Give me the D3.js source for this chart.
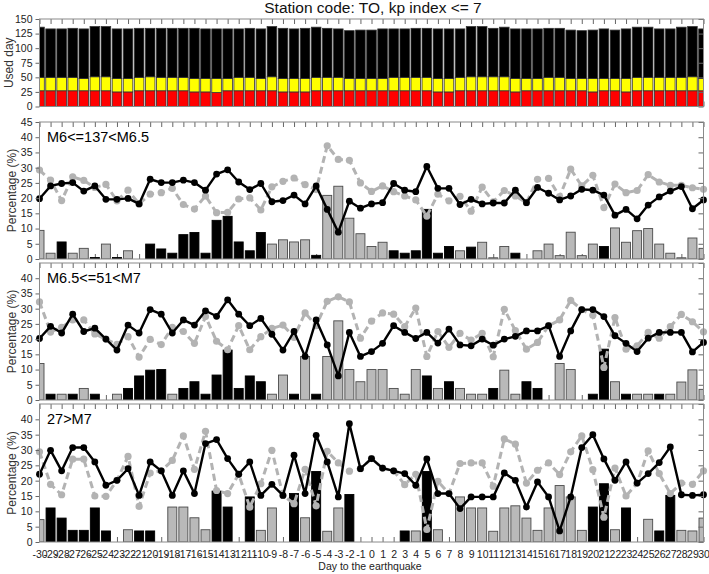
<!DOCTYPE html>
<html><head><meta charset="utf-8">
<script src="https://cdn.jsdelivr.net/npm/d3@7/dist/d3.min.js"></script>
<style>
body{margin:0;background:#fff}
svg{display:block}
text{font-family:"Liberation Sans",Arial,Helvetica,sans-serif}
</style>
</head><body>
<svg id="c" width="709" height="574"></svg>
<script>
// ---------- DATA ----------
const days = [-30,-29,-28,-27,-26,-25,-24,-23,-22,-21,-20,-19,-18,-17,-16,-15,-14,-13,-12,-11,-10,-9,-8,-7,-6,-5,-4,-3,-2,-1,
  0,1,2,3,4,5,6,7,8,9,10,11,12,13,14,15,16,17,18,19,20,21,22,23,24,25,26,27,28,29,30];

// top panel: used days (stack segments)
const usedRed = [27,27,27,27,27,27,27,25,25,27,27,27,27,27,25,25,24,27,27,27,27,27,25,25,25,27,27,27,27,27,
  27,27,27,27,27,27,25,25,27,27,27,27,27,25,27,27,27,27,27,27,25,27,27,25,27,27,27,27,27,27,27];
const usedYellow = [23,23,23,23,21,24,24,23,23,23,24,23,23,23,23,23,24,21,23,23,21,24,23,23,23,23,23,23,21,21,
  21,21,23,23,23,23,23,23,23,24,24,24,24,23,21,21,23,23,21,21,23,21,21,23,23,23,23,23,23,24,21];
const usedBlack = [86,83,83,84,85,86,86,85,85,84,83,84,84,84,86,85,85,85,83,84,85,86,86,85,86,86,84,83,82,83,
  83,85,83,83,84,84,85,85,83,86,86,83,85,85,85,85,84,84,83,82,83,85,83,85,86,86,83,83,86,86,85];
const usedTicks = [0,25,50,75,100,125,150];

// panel 1: M6<=137<M6.5
const m6Black = [19.8,24,24.8,25.1,22.3,24,19.6,19.6,19.9,18.1,26.2,25.1,25.1,25.9,25.1,22.6,27.9,29.3,25.3,22.8,24.8,18.8,19.2,21,18.1,24,16.3,8.8,19,16.7,
  18.1,18.5,24.8,22.6,22.1,30.4,23.2,23.2,17.9,19.6,18.1,18.4,18.4,22.6,18.5,23.5,21.6,19.4,20.7,22.9,22.6,21,14.4,16.3,13.2,17.7,20.4,22.3,23.8,16.5,19.4];
const m6Gray = [29.2,25.9,19.2,27,25.8,23.5,24.5,19.1,22.6,18.1,21.3,21.8,23.2,17.9,16.4,20.7,15.2,15.3,19.7,20.1,16.1,23.7,25.5,26.6,24.4,22.8,37.2,32.7,32.4,25,
  22.2,24,22.1,20.7,19.4,14.1,21.3,19.1,20.6,15.7,23.6,18.8,22.5,20.7,18.5,26.2,26.5,20.5,29.5,24,27.5,16.9,24.6,21.8,22.5,27.7,25.3,24.2,24.2,23.4,22.9];

// panel 2: M6.5<=51<M7
const m65Black = [20.2,24.2,22,28.2,22.5,23.6,20,16.4,24.6,22,29.7,28.2,22,26.3,24.6,29.3,27.5,32.9,28.2,24.4,26.8,21.6,16.4,22.5,14.3,26.3,18.1,7.9,22.2,14.3,
  15.9,18.6,24.4,22.2,20.2,22.2,18.7,23.3,18.1,17.8,20,18,20,20.9,22.7,22.7,24.4,14.3,22.7,29.7,29.7,27.4,21.1,18.6,15.9,20.3,22.2,22.2,22.2,15.8,18.9];
const m65Gray = [32.2,22.3,23.9,26.3,26.3,21.7,20,18.3,20.8,14.1,19.9,18.2,23.9,22.5,18.6,27.4,19.3,16.5,24.4,16.5,20.8,23.5,24.6,20.6,28.6,24.4,32.4,33.9,32.2,20.3,
  25.9,28.6,28.2,24.1,30.2,14.3,22.5,17.3,21.9,19.7,21.9,14.2,29.8,22.8,16.7,18.9,24.4,26.3,32.7,29.7,27.8,10.7,27.1,16.7,17.8,22.2,20.3,24.1,28.1,25.7,22.4];

// panel 3: 27>M7
const m7Black = [22.1,29.9,23.2,30.8,30.8,26.1,18.5,20.1,23.9,15.2,26.1,23.2,15.2,23.2,15.8,32.1,33.4,27.2,22.1,26.1,15.2,18.8,15.2,28.3,15.8,34.8,26.1,14.7,38.6,23.9,
  27.2,24.1,23.2,22.3,18.5,27.1,15.8,15.8,10.9,14.7,14.7,14.7,22.5,20.1,11.4,19.6,14.7,3.6,14.7,30.8,35,27.1,20.1,26.1,19.2,22.3,25.9,31,15.4,15.2,15.4];
const m7Gray = [29.4,18.8,15.4,27,27,15,14.9,20.1,27.9,11.6,22.5,23.2,26.6,34.6,23.7,36.1,16.8,15.8,22.1,11.4,19,29.9,15.2,12.5,23.7,11.8,29.6,25.8,23.1,23.9,
  27.2,24.1,23.2,18.7,22.1,4.1,19.8,15.8,25.6,25.8,25.8,18.2,33.6,31.9,19.2,23.4,25.8,22,29.4,34.6,23.6,8.1,24.1,15,19.2,29.7,22.3,15.8,19.2,18.8,23.2];

const percentTicks = [0,5,10,15,20,25,30,35,40,45];
const panelLabels = ["M6<=137<M6.5","M6.5<=51<M7","27>M7"];

// ---------- DRAW ----------
const svg = d3.select("#c");
const frameColor = "#8a8a8a";
const tickColor = "#666";
const labelColor = "#222";
const xLeft = 39.5, xRight = 703.5;
const x = d3.scaleLinear().domain([-30,30]).range([xLeft,xRight]);

function styleAxis(sel){
  sel.select(".domain").remove();
  sel.selectAll(".tick line").attr("stroke",tickColor);
  sel.selectAll(".tick text").attr("fill",labelColor).attr("font-size",10.5).attr("font-family","Liberation Sans, Arial, sans-serif");
}

function addClip(id, top, bottom){
  svg.append("clipPath").attr("id",id).append("rect")
    .attr("x",xLeft).attr("y",top).attr("width",xRight-xLeft).attr("height",bottom-top);
}

function frameAxes(g, y, top, bottom, leftTicks, rightTicks){
  g.append("g").attr("transform",`translate(0,${top})`)
    .call(d3.axisTop(x).tickValues(days).tickSize(-5).tickFormat(""))
    .call(styleAxis);
  g.append("g").attr("transform",`translate(${xLeft},0)`)
    .call(d3.axisLeft(y).tickValues(leftTicks).tickSize(4).tickPadding(3))
    .call(styleAxis);
  g.append("g").attr("transform",`translate(${xRight},0)`)
    .call(d3.axisRight(y).tickValues(rightTicks).tickSize(-5).tickFormat(""))
    .call(styleAxis);
  g.append("rect").attr("x",xLeft).attr("y",top).attr("width",xRight-xLeft).attr("height",bottom-top)
    .attr("fill","none").attr("stroke",frameColor).attr("stroke-width",1);
}

// Title
svg.append("text").attr("x",373).attr("y",13).attr("text-anchor","middle")
  .attr("font-size",15.5).attr("fill","#111").text("Station code: TO, kp index <= 7");

// ---- Top panel ----
{
  const top = 19, bottom = 106.5;
  const y = d3.scaleLinear().domain([0,150]).range([bottom,top]);
  const g = svg.append("g");
  addClip("clipTop", top, bottom);
  g.append("g").attr("transform",`translate(0,${bottom})`)
    .call(d3.axisBottom(x).tickValues(days).tickSize(-5).tickFormat(""))
    .call(styleAxis);
  const rows = days.map((d,i)=>({day:d, red:usedRed[i], yellow:usedYellow[i], black:usedBlack[i]}));
  const stack = d3.stack().keys(["red","yellow","black"])(rows);
  const colors = {red:"#ff0000", yellow:"#ffff00", black:"#000000"};
  const bw = 9.6;
  const bars = g.append("g").attr("clip-path","url(#clipTop)");
  stack.forEach(layer=>{
    bars.append("g").selectAll("rect").data(layer).join("rect")
      .attr("x",d=>x(d.data.day)-bw/2).attr("width",bw)
      .attr("y",d=>y(d[1])).attr("height",d=>y(d[0])-y(d[1]))
      .attr("fill",colors[layer.key]).attr("stroke","#333").attr("stroke-width",0.8);
  });
  frameAxes(g, y, top, bottom, usedTicks, usedTicks);
  svg.append("text").attr("transform",`translate(12.5,${(top+bottom)/2}) rotate(-90)`)
    .attr("text-anchor","middle").attr("font-size",12).attr("fill","#333").text("Used day");
}

// ---- Percentage panels ----
const panelDefs = [
  {label:panelLabels[0], black:m6Black, gray:m6Gray, top:122, bottom:259, ticks:percentTicks},
  {label:panelLabels[1], black:m65Black, gray:m65Gray, top:263, bottom:400, ticks:percentTicks.slice(0,9)},
  {label:panelLabels[2], black:m7Black, gray:m7Gray, top:404, bottom:542, ticks:percentTicks.slice(0,9), xLabels:true}
];

panelDefs.forEach((p,i)=>{
  const y = d3.scaleLinear().domain([0,45]).range([p.bottom,p.top]);
  const g = svg.append("g");
  const clipId = "clipP"+i;
  addClip(clipId, p.top, p.bottom);

  // bottom ticks (inward) + day labels on the last panel
  const bax = d3.axisBottom(x).tickValues(days).tickSize(-5).tickPadding(9)
    .tickFormat(p.xLabels ? (d=>String(d)) : "");
  g.append("g").attr("transform",`translate(0,${p.bottom})`).call(bax).call(styleAxis)
    .selectAll(".tick text").attr("font-size",10.5);

  // difference bars
  const diff = days.map((d,j)=>({day:d, v:+(p.black[j]-p.gray[j]).toFixed(2)})).filter(d=>Math.abs(d.v)>0.01);
  const bw = 9;
  g.append("g").attr("clip-path",`url(#${clipId})`)
    .selectAll("rect").data(diff).join("rect")
    .attr("x",d=>x(d.day)-bw/2).attr("width",bw)
    .attr("y",d=>y(Math.abs(d.v))).attr("height",d=>y(0)-y(Math.abs(d.v)))
    .attr("fill",d=>d.v>0?"#000":"#b9b9b9")
    .attr("stroke",d=>d.v>0?"#000":"#4a4a4a").attr("stroke-width",0.9);

  const pts = key => days.map((d,j)=>({day:d, v:p[key][j]}));
  const line = d3.line().x(d=>x(d.day)).y(d=>y(d.v));

  // gray dashed series
  g.append("path").datum(pts("gray")).attr("d",line)
    .attr("fill","none").attr("stroke","#b3b3b3").attr("stroke-width",3)
    .attr("stroke-dasharray","7,4").attr("stroke-linejoin","round");
  g.append("g").selectAll("circle").data(pts("gray")).join("circle")
    .attr("cx",d=>x(d.day)).attr("cy",d=>y(d.v)).attr("r",3.6).attr("fill","#b3b3b3");

  // black solid series
  g.append("path").datum(pts("black")).attr("d",line)
    .attr("fill","none").attr("stroke","#000").attr("stroke-width",2.4).attr("stroke-linejoin","round");
  g.append("g").selectAll("circle").data(pts("black")).join("circle")
    .attr("cx",d=>x(d.day)).attr("cy",d=>y(d.v)).attr("r",3.4).attr("fill","#000");

  frameAxes(g, y, p.top, p.bottom, p.ticks, percentTicks);

  g.append("text").attr("x",47).attr("y",p.top+20).attr("font-size",14.5).attr("fill","#000").text(p.label);
  svg.append("text").attr("transform",`translate(15.5,${(p.top+p.bottom)/2}) rotate(-90)`)
    .attr("text-anchor","middle").attr("font-size",12).attr("fill","#333").text("Percentage (%)");
});

svg.append("text").attr("x",370).attr("y",570).attr("text-anchor","middle")
  .attr("font-size",10.5).attr("fill","#222").text("Day to the earthquake");
</script>
</body></html>
